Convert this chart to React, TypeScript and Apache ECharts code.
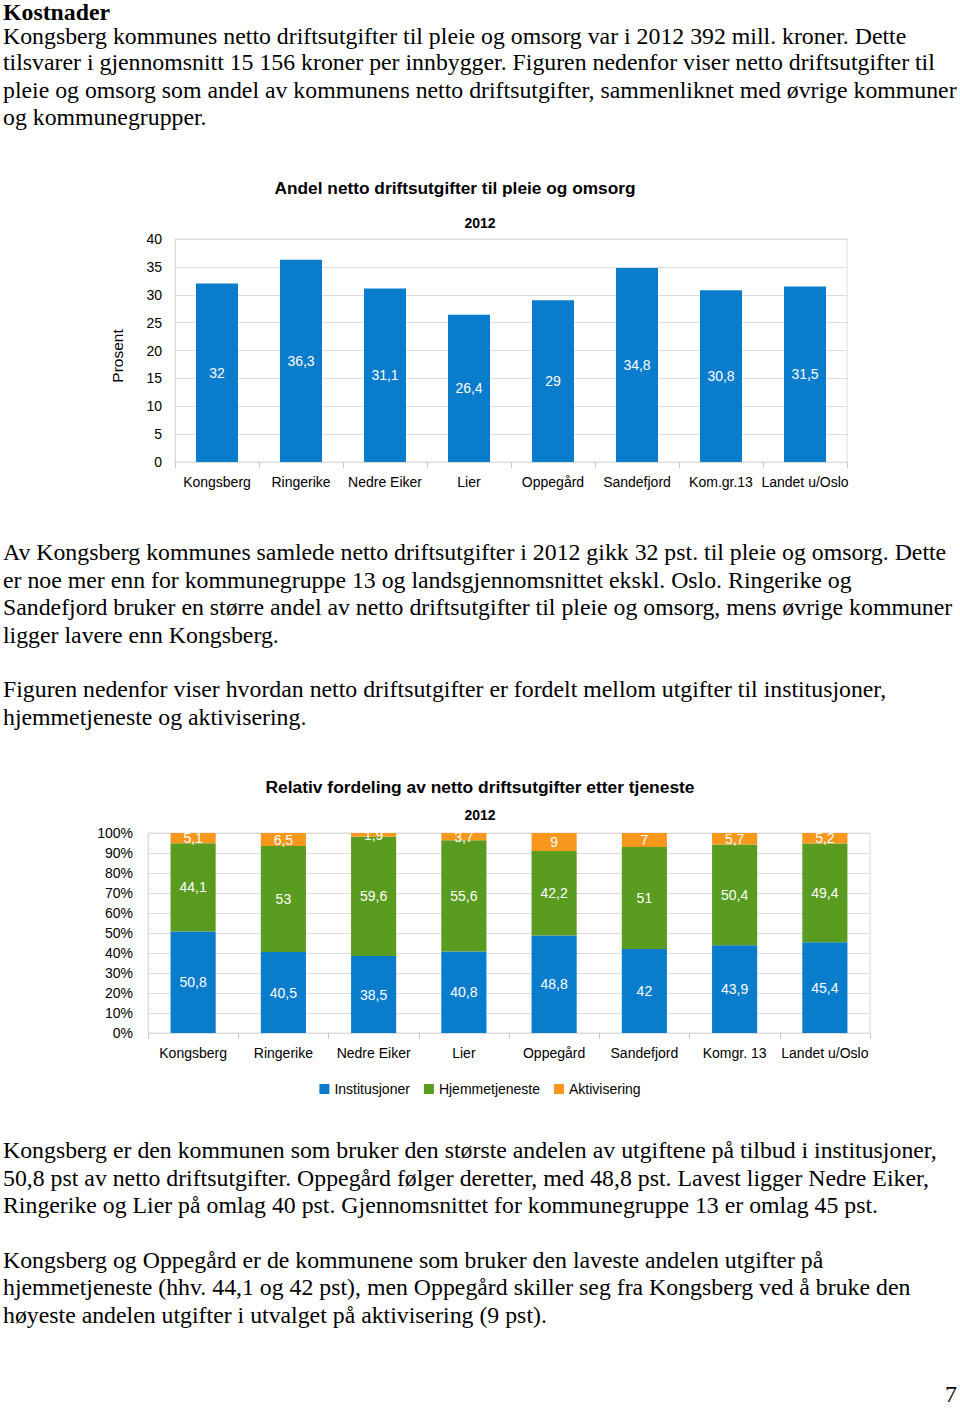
import React, { useEffect, useRef } from "react";
import * as echarts from "echarts";

const categories1 = ["Kongsberg", "Ringerike", "Nedre Eiker", "Lier", "Oppegård", "Sandefjord", "Kom.gr.13", "Landet u/Oslo"];
const andel = [32, 36.3, 31.1, 26.4, 29, 34.8, 30.8, 31.5];

const categories2 = ["Kongsberg", "Ringerike", "Nedre Eiker", "Lier", "Oppegård", "Sandefjord", "Komgr. 13", "Landet u/Oslo"];
const institusjoner = [50.8, 40.5, 38.5, 40.8, 48.8, 42, 43.9, 45.4];
const hjemmetjeneste = [44.1, 53, 59.6, 55.6, 42.2, 51, 50.4, 49.4];
const aktivisering = [5.1, 6.5, 1.9, 3.7, 9, 7, 5.7, 5.2];
const seriesNames2 = ["Institusjoner", "Hjemmetjeneste", "Aktivisering"];

const heading = "Kostnader";
const para1 = [
  "Kongsberg kommunes netto driftsutgifter til pleie og omsorg var i 2012 392 mill. kroner. Dette",
  "tilsvarer i gjennomsnitt 15 156 kroner per innbygger. Figuren nedenfor viser netto driftsutgifter til",
  "pleie og omsorg som andel av kommunens netto driftsutgifter, sammenliknet med øvrige kommuner",
  "og kommunegrupper.",
];
const para2 = [
  "Av Kongsberg kommunes samlede netto driftsutgifter i 2012 gikk 32 pst. til pleie og omsorg. Dette",
  "er noe mer enn for kommunegruppe 13 og landsgjennomsnittet ekskl. Oslo. Ringerike og",
  "Sandefjord bruker en større andel av netto driftsutgifter til pleie og omsorg, mens øvrige kommuner",
  "ligger lavere enn Kongsberg.",
];
const para3 = [
  "Figuren nedenfor viser hvordan netto driftsutgifter er fordelt mellom utgifter til institusjoner,",
  "hjemmetjeneste og aktivisering.",
];
const para4 = [
  "Kongsberg er den kommunen som bruker den største andelen av utgiftene på tilbud i institusjoner,",
  "50,8 pst av netto driftsutgifter. Oppegård følger deretter, med 48,8 pst. Lavest ligger Nedre Eiker,",
  "Ringerike og Lier på omlag 40 pst. Gjennomsnittet for kommunegruppe 13 er omlag 45 pst.",
];
const para5 = [
  "Kongsberg og Oppegård er de kommunene som bruker den laveste andelen utgifter på",
  "hjemmetjeneste (hhv. 44,1 og 42 pst), men Oppegård skiller seg fra Kongsberg ved å bruke den",
  "høyeste andelen utgifter i utvalget på aktivisering (9 pst).",
];

const BLUE = "#0a7ccc";
const GREEN = "#5a9c20";
const ORANGE = "#f7981d";
const GRIDC = "#dcdcdc";
const SANS = "'Liberation Sans', Arial, sans-serif";
const SERIF = "'Liberation Serif', 'Times New Roman', serif";
const BODY = 23.8;

const fmt = (p: any) => String(p.value).replace(".", ",");

function txt(text: string, x: number, y: number, font: string, align = "left", rotation = 0) {
  return {
    type: "text",
    x,
    y,
    rotation,
    style: { text, font, fill: "#000", align, verticalAlign: "middle" },
  };
}

function lines(texts: string[], ys: number[]) {
  return texts.map((t, i) => txt(t, 3, ys[i] - 2, `${BODY}px ${SERIF}`));
}

export default function App() {
  const ref = useRef<HTMLDivElement>(null);
  useEffect(() => {
    const chart = echarts.init(ref.current!, null, { renderer: "svg" });
    const labelStyle = { show: true, position: "inside", color: "#fff", fontSize: 14, fontFamily: SANS, formatter: fmt };
    chart.setOption({
      animation: false,
      backgroundColor: "#fff",
      textStyle: { fontFamily: SANS },
      legend: {
        data: seriesNames2,
        left: "center",
        top: 1077,
        icon: "rect",
        itemWidth: 10,
        itemHeight: 10,
        itemGap: 14,
        textStyle: { fontSize: 14, color: "#000", fontFamily: SANS },
      },
      grid: [
        { left: 175, right: 113, top: 239, bottom: 948, show: true, borderColor: GRIDC, borderWidth: 1 },
        { left: 148, right: 90, top: 833, bottom: 377, show: true, borderColor: GRIDC, borderWidth: 1 },
      ],
      xAxis: [
        {
          type: "category", gridIndex: 0, data: categories1,
          axisLine: { lineStyle: { color: GRIDC } },
          axisTick: { show: true, length: 6, lineStyle: { color: "#c8c8c8" } },
          axisLabel: { interval: 0, fontSize: 14, color: "#000", margin: 13 },
        },
        {
          type: "category", gridIndex: 1, data: categories2,
          axisLine: { lineStyle: { color: GRIDC } },
          axisTick: { show: true, length: 6, lineStyle: { color: "#c8c8c8" } },
          axisLabel: { interval: 0, fontSize: 14, color: "#000", margin: 13 },
        },
      ],
      yAxis: [
        {
          type: "value", gridIndex: 0, min: 0, max: 40, interval: 5,
          axisLine: { show: true, lineStyle: { color: GRIDC } },
          axisTick: { show: false },
          splitLine: { lineStyle: { color: GRIDC } },
          axisLabel: { fontSize: 14, color: "#000", margin: 13 },
        },
        {
          type: "value", gridIndex: 1, min: 0, max: 100, interval: 10,
          axisLine: { show: true, lineStyle: { color: GRIDC } },
          axisTick: { show: false },
          splitLine: { lineStyle: { color: GRIDC } },
          axisLabel: { fontSize: 14, color: "#000", margin: 15, formatter: "{value}%" },
        },
      ],
      series: [
        { name: "Andel", type: "bar", xAxisIndex: 0, yAxisIndex: 0, data: andel, barWidth: "50%", itemStyle: { color: BLUE }, label: labelStyle },
        { name: seriesNames2[0], type: "bar", stack: "t", xAxisIndex: 1, yAxisIndex: 1, data: institusjoner, barWidth: "50%", itemStyle: { color: BLUE }, label: labelStyle },
        { name: seriesNames2[1], type: "bar", stack: "t", xAxisIndex: 1, yAxisIndex: 1, data: hjemmetjeneste, barWidth: "50%", itemStyle: { color: GREEN }, label: labelStyle },
        { name: seriesNames2[2], type: "bar", stack: "t", xAxisIndex: 1, yAxisIndex: 1, data: aktivisering, barWidth: "50%", itemStyle: { color: ORANGE }, label: labelStyle },
      ],
      graphic: [
        txt(heading, 3, 12, `bold ${BODY}px ${SERIF}`),
        ...lines(para1, [38, 64, 92, 119]),
        txt("Andel netto driftsutgifter til pleie og omsorg", 455, 188, `bold 17.3px ${SANS}`, "center"),
        txt("2012", 480, 223, `bold 14px ${SANS}`, "center"),
        txt("Prosent", 117, 356, `15.5px ${SANS}`, "center", Math.PI / 2),
        ...lines(para2, [554, 582, 609, 637]),
        ...lines(para3, [691, 719]),
        txt("Relativ fordeling av netto driftsutgifter etter tjeneste", 480, 787, `bold 17.4px ${SANS}`, "center"),
        txt("2012", 480, 815, `bold 14px ${SANS}`, "center"),
        ...lines(para4, [1152, 1180, 1207]),
        ...lines(para5, [1262, 1289, 1317]),
        txt("7", 957, 1394, `${BODY}px ${SERIF}`, "right"),
      ],
    });
    return () => chart.dispose();
  }, []);
  return <div ref={ref} style={{ position: "absolute", left: 0, top: 0, width: 960, height: 1410 }} />;
}
